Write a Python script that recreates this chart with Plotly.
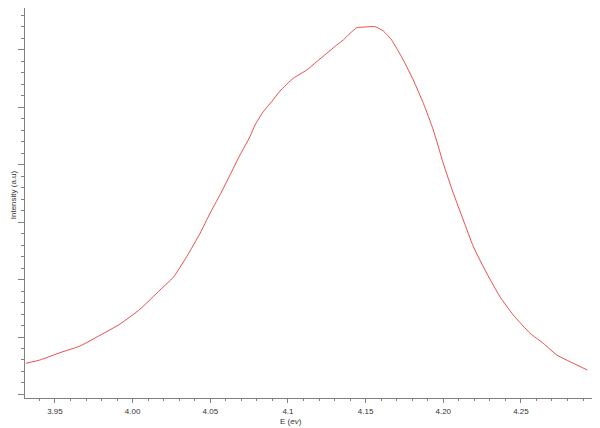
import plotly.graph_objects as go

# photon energy (eV) and intensity (arbitrary units)
energy = [3.9313, 3.9403, 3.9532, 3.9661, 3.9790, 3.9919, 4.0047, 4.0176, 4.0262,
          4.0348, 4.0434, 4.0498, 4.0562, 4.0627, 4.0691, 4.0755, 4.0788, 4.0841,
          4.0895, 4.0949, 4.1034, 4.1121, 4.1185, 4.1250, 4.1314, 4.1356, 4.1400,
          4.1443, 4.1496, 4.1561, 4.1614, 4.1668, 4.1700, 4.1743, 4.1807, 4.1872,
          4.1936, 4.2000, 4.2065, 4.2129, 4.2194, 4.2280, 4.2365, 4.2451, 4.2559,
          4.2644, 4.2731, 4.2837, 4.2928]
intensity = [0.543, 0.600, 0.727, 0.843, 1.030, 1.226, 1.482, 1.817, 2.038,
             2.397, 2.803, 3.151, 3.470, 3.817, 4.165, 4.483, 4.687, 4.918,
             5.092, 5.278, 5.499, 5.643, 5.788, 5.934, 6.078, 6.165, 6.282,
             6.379, 6.391, 6.397, 6.322, 6.165, 6.021, 5.817, 5.470, 5.064,
             4.600, 4.021, 3.499, 3.035, 2.570, 2.108, 1.701, 1.383, 1.064,
             0.890, 0.687, 0.543, 0.426]

x_ticks = [3.95, 4.00, 4.05, 4.10, 4.15, 4.20, 4.25]
x_labels = ["3.95", "4.00", "4.05", "4.1", "4.15", "4.20", "4.25"]

axis_col = "#808080"
font = dict(family="Liberation Sans, Arial, sans-serif", size=8, color="#333")

fig = go.Figure()
fig.add_trace(go.Scatter(x=energy, y=intensity, mode="lines",
                         line=dict(color="#e43a3a", width=0.9, shape="spline", smoothing=0.5),
                         showlegend=False))

# page body has an 8px margin, so the plot box is shifted up/left by that much
fig.update_layout(
    width=600, height=428,
    margin=dict(l=17, r=13, t=0, b=38),
    plot_bgcolor="white", paper_bgcolor="white",
    font=font,
)
fig.update_xaxes(
    range=[3.9307, 4.2977], showgrid=False, zeroline=False, automargin=False,
    showline=True, linecolor=axis_col, linewidth=1.2,
    tickmode="array", tickvals=x_ticks, ticktext=x_labels,
    ticks="outside", ticklen=4, tickcolor=axis_col, tickwidth=1,
    minor=dict(dtick=0.01, tick0=3.95, ticks="outside", ticklen=2, tickcolor=axis_col),
    ticklabelstandoff=1, tickfont=font,
)
fig.update_yaxes(
    range=[-0.061, 6.722], showgrid=False, zeroline=False, automargin=False,
    showline=True, linecolor=axis_col, linewidth=1.2,
    dtick=1, tick0=0, showticklabels=False,
    ticks="outside", ticklen=6, tickcolor=axis_col, tickwidth=1,
    minor=dict(dtick=0.2, ticks="outside", ticklen=3, tickcolor=axis_col),
)

fig.add_annotation(text="E (<i>ev</i>)", xref="paper", yref="paper",
                   x=0.466, y=-0.061, xanchor="center", yanchor="middle",
                   showarrow=False, font=font)
fig.add_annotation(text="Intensity (a.u)", xref="paper", yref="paper",
                   x=-0.021, y=0.52, xanchor="center", yanchor="middle",
                   textangle=-90, showarrow=False, font=font)

fig.write_html("out.html")
